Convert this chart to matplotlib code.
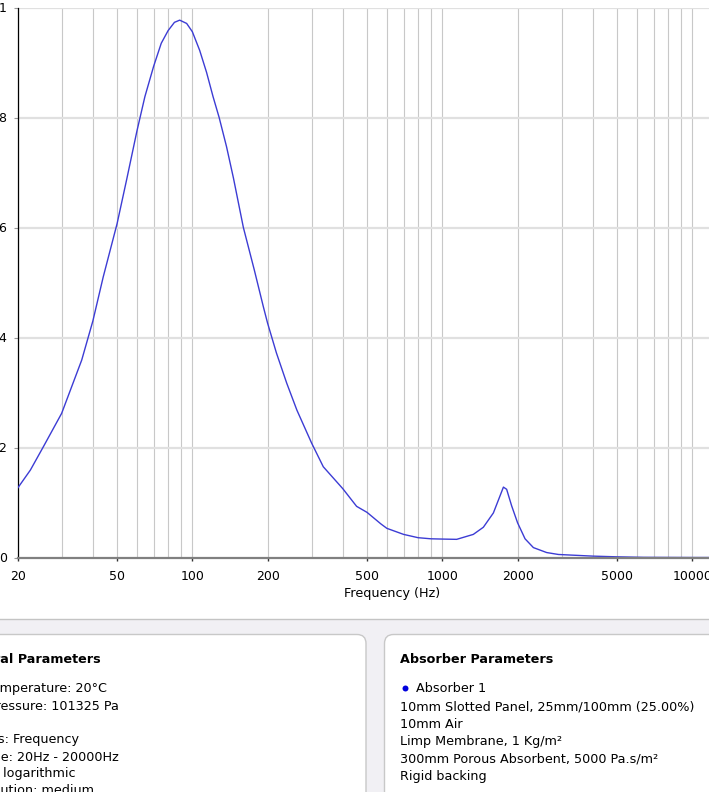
import matplotlib
matplotlib.use("Agg")
import matplotlib.pyplot as plt
from matplotlib.patches import Rectangle, FancyBboxPatch
from matplotlib.ticker import FixedLocator, NullFormatter

plt.rcParams['font.family'] = ['DejaVu Sans']

# absorption coefficient
freq = [20, 22.5, 25.4, 30, 36.1, 40, 44, 50, 54.6, 60, 64.6, 70, 75.1, 80,
        84.8, 89, 94.9, 100, 107, 114, 121, 128, 137, 146, 160, 176.9,
        192.3, 200, 216.9, 238.5, 261.9, 300, 334, 400, 454, 500, 568, 600,
        700, 800, 900, 1000, 1141, 1330, 1459, 1600, 1691, 1755, 1808,
        1893, 2000, 2142, 2313, 2614, 2912, 4000, 5000, 6400, 10000, 20000]
alpha = [0.126, 0.159, 0.202, 0.262, 0.359, 0.43, 0.51, 0.607, 0.687, 0.775,
         0.838, 0.893, 0.935, 0.958, 0.973, 0.977, 0.971, 0.956, 0.922,
         0.882, 0.838, 0.80, 0.747, 0.690, 0.60, 0.523, 0.456, 0.426, 0.372,
         0.317, 0.268, 0.208, 0.165, 0.125, 0.093, 0.082, 0.061, 0.053,
         0.042, 0.036, 0.034, 0.0335, 0.033, 0.042, 0.055, 0.081, 0.109,
         0.128, 0.124, 0.094, 0.063, 0.034, 0.018, 0.009, 0.0055, 0.0025,
         0.0012, 0.0003, 0.0, 0.0]

xticks = [20, 50, 100, 200, 500, 1000, 2000, 5000, 10000, 20000]
xtick_labels = ['20', '50', '100', '200', '500', '1000', '2000', '5000', '10000', '20000']
xgrid = [m * d for d in (10, 100, 1000, 10000) for m in range(1, 10)
         if 20 <= m * d <= 20000]
yticks = [0, 0.2, 0.4, 0.6, 0.8, 1.0]
ytick_labels = ['0', '0.2', '0.4', '0.6', '0.8', '1']

# (full text, part visible in the crop, visible x, y)
general_title = ("General Parameters", "al Parameters", 0.0, 659.5)
general_lines = [
    ("Temperature: 20°C", "mperature: 20°C", 0.0, 688.5),
    ("Pressure: 101325 Pa", "essure: 101325 Pa", 0.0, 706.0),
    ("Axis: Frequency", "s: Frequency", -2.5, 740.0),
    ("Range: 20Hz - 20000Hz", "e: 20Hz - 20000Hz", 1.0, 757.0),
    ("Scale: logarithmic", ": logarithmic", -5.5, 774.0),
    ("Resolution: medium", "ution: medium", 0.0, 791.0),
]
absorber_name = "Absorber 1"
absorber_lines = [
    "10mm Slotted Panel, 25mm/100mm (25.00%)",
    "10mm Air",
    "Limp Membrane, 1 Kg/m²",
    "300mm Porous Absorbent, 5000 Pa.s/m²",
    "Rigid backing",
]

W, H = 709, 792
fig = plt.figure(figsize=(W / 100, H / 100), dpi=100)
fig.patch.set_facecolor('white')

# page background and panels, in pixel coordinates
ov = fig.add_axes([0, 0, 1, 1])
ov.set_xlim(0, W)
ov.set_ylim(H, 0)
ov.axis('off')
ov.set_zorder(0)
ov.add_patch(Rectangle((-5, 618.5), W + 10, 200, fc='#f1f0f4', ec='#c4c4c4', lw=1))
ov.add_patch(FancyBboxPatch((-30, 634.5), 396, 300,
                            boxstyle='round,pad=0,rounding_size=9',
                            fc='white', ec='#c8c8c8', lw=1))
ov.add_patch(FancyBboxPatch((384.5, 634.5), 400, 300,
                            boxstyle='round,pad=0,rounding_size=9',
                            fc='white', ec='#c8c8c8', lw=1))

fs = 9.2
renderer = fig.canvas.get_renderer()


def text_width(s, **kw):
    t = ov.text(0, 0, s, fontsize=fs, **kw)
    w = t.get_window_extent(renderer).width
    t.remove()
    return w


def clipped_text(full, visible, xvis, y, **kw):
    # the page is cropped on the left, so only the tail of the text shows
    x = xvis - (text_width(full, **kw) - text_width(visible, **kw))
    ov.text(x, y, full, fontsize=fs, va='center', ha='left', **kw)


clipped_text(*general_title, fontweight='bold')
for full, vis, xv, y in general_lines:
    clipped_text(full, vis, xv, y)

ov.text(400, 659.5, "Absorber Parameters", fontsize=fs, fontweight='bold', va='center')
ov.plot([405], [687.5], 'o', color='#0000dd', ms=4.3, mec='none')
ov.text(415.5, 688.5, absorber_name, fontsize=fs, va='center')
for i, s in enumerate(absorber_lines):
    ov.text(400, 706.5 + i * 17.5, s, fontsize=fs, va='center')

# chart
left, right, top, bottom = 17.6, 767.6, 7.5, 557.5
ax = fig.add_axes([left / W, 1 - bottom / H, (right - left) / W, (bottom - top) / H])
ax.set_zorder(1)
ax.plot(freq, alpha, color='#3c3cd4', lw=1.0, zorder=3)
ax.set_xscale('log')
ax.set_xlim(20, 20000)
ax.set_ylim(0, 1)

ax.xaxis.set_major_locator(FixedLocator(xticks))
ax.set_xticklabels(xtick_labels)
ax.xaxis.set_minor_locator(FixedLocator(xgrid))
ax.xaxis.set_minor_formatter(NullFormatter())
ax.set_yticks(yticks)
ax.set_yticklabels(ytick_labels)

for x in xgrid:
    ax.axvline(x, color='#c8c8c8', lw=0.8, zorder=1)
for y in yticks[1:]:
    ax.axhline(y, color='#e0e0e0', lw=1.6, zorder=1)

ax.tick_params(axis='x', which='major', length=2, width=1, color='#333333',
               pad=6.8, labelsize=9)
ax.tick_params(axis='x', which='minor', length=0)
ax.tick_params(axis='y', length=3.1, width=0.8, color='#999999', pad=4.7, labelsize=9)

for s in ('top', 'right'):
    ax.spines[s].set_visible(False)
ax.spines['left'].set_color('black')
ax.spines['left'].set_linewidth(0.9)
ax.spines['bottom'].set_color('#808080')
ax.spines['bottom'].set_linewidth(1.6)
ax.spines['bottom'].set_zorder(4)

ax.set_xlabel('Frequency (Hz)', fontsize=9.2)
ax.xaxis.label.set_va('center')
ax.xaxis.set_label_coords((392.5 - left) / (right - left), -(593 - bottom) / (bottom - top))

fig.savefig('out.png', dpi=100)
